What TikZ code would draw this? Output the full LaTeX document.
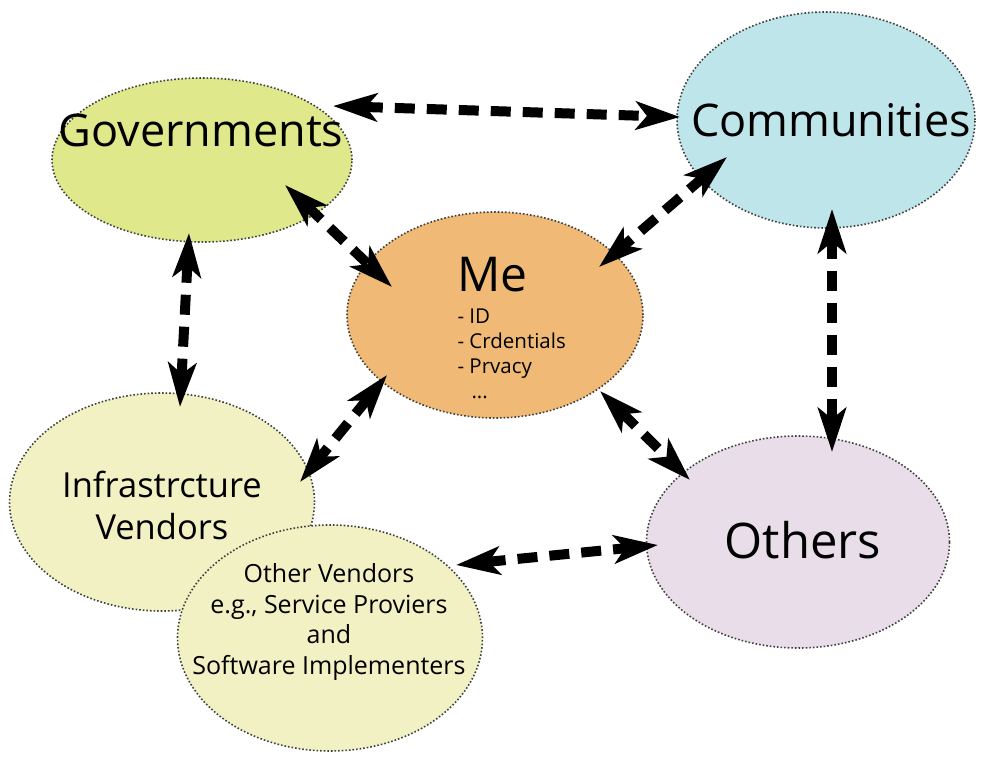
\documentclass[tikz,border=0pt]{standalone}
\usepackage{fontspec}
\setmainfont{Open Sans}
\usetikzlibrary{arrows.meta,shapes.geometric}

\definecolor{govfill}{RGB}{223,232,138}
\definecolor{comfill}{RGB}{190,229,234}
\definecolor{mefill}{RGB}{240,186,118}
\definecolor{vendfill}{RGB}{242,241,196}
\definecolor{othfill}{RGB}{232,221,232}

\begin{document}
\begin{tikzpicture}[
  x=1pt, y=-1pt,
  blob/.style={ellipse, draw=black!75, dotted, line width=1.6pt, inner sep=0pt},
  link/.style={arrows={Stealth[length=44pt, width=28pt, inset=11pt]-Stealth[length=44pt, width=28pt, inset=11pt]},
    line width=10pt, dash pattern=on 20pt off 12pt}
]
\useasboundingbox (0,0) rectangle (992,762);

% the parties
\node[blob, fill=govfill, minimum width=300pt, minimum height=164pt] (gov) at (202,160) {};
\node[blob, fill=comfill, minimum width=298pt, minimum height=216pt] (com) at (826,120) {};
\node[blob, fill=mefill, minimum width=296pt, minimum height=206pt] (me) at (495,315) {};
\node[blob, fill=vendfill, minimum width=305pt, minimum height=218pt] (infra) at (162,502) {};
\node[blob, fill=vendfill, minimum width=305pt, minimum height=226pt] (ovend) at (330,638) {};
\node[blob, fill=othfill, minimum width=303pt, minimum height=212pt] (oth) at (798,542) {};

% labels
\node[font=\fontsize{45}{50}\selectfont] (govtext) at (201,130) {Governments};
\node[font=\fontsize{45}{50}\selectfont] (comtext) at (831,120) {Communities};
\node[font=\fontsize{49}{50}\selectfont] (othtext) at (803,540) {Others};
\node[font=\fontsize{34.5}{42}\selectfont, align=center] (infratext) at (162,505) {Infrastrcture\\Vendors};
\node[font=\fontsize{25}{30.5}\selectfont, align=center] (ovendtext) at (329,622) {Other Vendors\\e.g., Service Proviers\\and\\Software Implementers};
\node[font=\fontsize{20.5}{25}\selectfont, align=left, anchor=north west] (metext) at (454,254)
  {{\fontsize{48}{50}\selectfont Me}\\[7pt]- ID\\- Crdentials\\- Prvacy\\\hspace*{14pt}...};

% relations
\draw[link] ([shift={(131,-54)}]gov.center) -- ([shift={(-146,-3)}]com.center);
\draw[link] ([shift={(83,25)}]gov.center) -- ([shift={(-103,-28)}]me.center);
\draw[link] ([shift={(-99,37)}]com.center) -- ([shift={(104,-48)}]me.center);
\draw[link] ([shift={(-13,73)}]gov.center) -- ([shift={(18,-95)}]infra.center);
\draw[link] ([shift={(-108,60)}]me.center) -- ([shift={(138,-20)}]infra.center);
\draw[link] ([shift={(6,89)}]com.center) -- ([shift={(34,-90)}]oth.center);
\draw[link] ([shift={(105,76)}]me.center) -- ([shift={(-108,-62)}]oth.center);
\draw[link] ([shift={(126,-73)}]ovend.center) -- ([shift={(-140,3)}]oth.center);
\end{tikzpicture}
\end{document}
